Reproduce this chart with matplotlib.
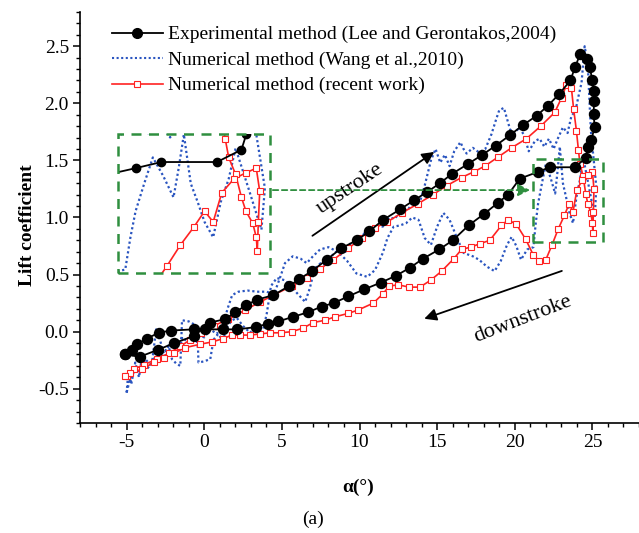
import matplotlib
matplotlib.use('Agg')
import matplotlib.pyplot as plt
from matplotlib.patches import Rectangle
from matplotlib.lines import Line2D
from matplotlib.ticker import MultipleLocator, FormatStrFormatter

# ---------------- data ----------------
exp_up_alpha = [-5.08, -4.16, -3.00, -1.93, -0.69, 0.39, 1.35, 1.99, 2.68, 3.39,
                4.46, 5.47, 6.11, 6.93, 7.89, 8.81, 9.82, 10.64, 11.53, 12.60,
                13.50, 14.32, 15.18, 15.93, 17.00, 17.92, 18.78, 19.68, 20.53, 21.40,
                22.14, 22.85, 23.58, 23.89, 24.21, 24.65, 24.82, 25.00, 25.08, 25.10,
                25.08, 25.14, 24.93, 24.71, 24.57]
exp_up_cl = [-0.20, -0.22, -0.16, -0.10, -0.04, 0.08, 0.11, 0.17, 0.23, 0.28,
             0.32, 0.40, 0.46, 0.53, 0.63, 0.73, 0.80, 0.88, 0.98, 1.07,
             1.15, 1.22, 1.30, 1.38, 1.47, 1.55, 1.63, 1.72, 1.81, 1.89,
             1.98, 2.08, 2.20, 2.32, 2.43, 2.39, 2.32, 2.20, 2.11, 2.02,
             1.91, 1.79, 1.68, 1.62, 1.52]
exp_down_alpha = [24.57, 23.86, 22.25, 21.50, 20.32, 19.57, 18.93, 18.01, 17.02, 16.01,
                  15.13, 14.10, 13.25, 12.35, 11.38, 10.29, 9.29, 8.33, 7.56, 6.69,
                  5.72, 4.78, 4.08, 3.34, 2.10, 1.24, 0.06, -0.69, -2.14, -2.94,
                  -3.68, -4.33, -4.65, -5.08]
exp_down_cl = [1.52, 1.44, 1.44, 1.40, 1.34, 1.20, 1.13, 1.03, 0.93, 0.80,
               0.72, 0.64, 0.56, 0.49, 0.43, 0.37, 0.31, 0.25, 0.22, 0.17,
               0.13, 0.09, 0.07, 0.04, 0.02, 0.02, 0.02, 0.02, 0.01, -0.01,
               -0.06, -0.11, -0.16, -0.20]

rec_up_alpha = [-4.97, -4.55, -3.90, -3.04, -2.30, -1.54, -0.90, -0.19, 0.60, 1.56,
                2.64, 3.60, 4.46, 5.64, 6.60, 7.46, 8.32, 9.28, 10.14, 11.00,
                11.77, 12.73, 13.76, 14.73, 15.63, 16.57, 17.36, 18.07, 18.93, 19.79,
                20.75, 21.67, 22.57, 23.02, 23.32, 23.65, 23.79, 23.97, 24.10, 24.20,
                24.40, 24.57, 24.70, 24.90, 25.00, 25.03]
rec_up_cl = [-0.39, -0.33, -0.29, -0.24, -0.19, -0.13, -0.07, -0.01, 0.05, 0.11,
             0.19, 0.26, 0.32, 0.40, 0.47, 0.55, 0.63, 0.73, 0.82, 0.91,
             0.96, 1.04, 1.12, 1.20, 1.28, 1.35, 1.40, 1.45, 1.53, 1.61,
             1.69, 1.80, 1.92, 2.05, 2.16, 2.13, 1.95, 1.76, 1.59, 1.47,
             1.36, 1.21, 1.12, 1.04, 0.95, 0.86]
rec_down_alpha = [25.03, 25.06, 25.10, 25.00, 24.70, 24.35, 24.00, 23.75, 23.50, 23.20,
                  22.80, 22.40, 22.00, 21.56, 21.20, 20.70, 20.10, 19.57, 19.14, 18.39,
                  17.75, 17.15, 16.57, 16.08, 15.29, 14.58, 13.89, 13.20, 12.50, 11.92,
                  11.50, 10.89, 9.92, 9.28, 8.42, 7.78, 7.03, 6.35, 5.64, 4.93,
                  4.24, 3.60, 2.96, 2.32, 1.78, 1.24, 0.51, -0.26, -1.22, -1.97,
                  -2.62, -3.26, -4.00, -4.76, -5.08]
rec_down_cl = [0.86, 1.05, 1.25, 1.40, 1.37, 1.33, 1.24, 1.05, 1.12, 1.02,
               0.90, 0.76, 0.63, 0.62, 0.67, 0.81, 0.94, 0.98, 0.93, 0.80,
               0.77, 0.74, 0.72, 0.64, 0.53, 0.45, 0.39, 0.39, 0.41, 0.40,
               0.33, 0.25, 0.19, 0.16, 0.13, 0.10, 0.08, 0.03, 0.00, -0.01,
               -0.01, -0.02, -0.03, -0.03, -0.03, -0.06, -0.09, -0.11, -0.14, -0.19,
               -0.23, -0.27, -0.33, -0.36, -0.39]

wang_up_alpha = [-5.0, -4.87, -4.7, -4.44, -4.2, -4.0, -3.7, -3.36, -3.1, -2.9,
                 -2.6, -2.3, -2.08, -1.8, -1.54, -1.43, -1.0, -0.6, -0.4, -0.37,
                 0.0, 0.39, 0.6, 0.9, 1.2, 1.5, 1.8, 2.1, 2.5, 2.96,
                 3.3, 3.6, 3.8, 4.03, 4.3, 4.67, 5.2, 5.6, 5.96, 6.5,
                 6.8, 7.1, 7.5, 7.9, 8.3, 8.7, 9.1, 9.5, 9.9, 10.3,
                 10.7, 11.1, 11.5, 11.9, 12.3, 12.7, 13.1, 13.5, 13.9, 14.2,
                 14.6, 14.9, 15.2, 15.5, 15.8, 16.1, 16.5, 16.7, 16.9, 17.3,
                 17.7, 18.1, 18.5, 18.8, 19.0, 19.3, 19.7, 20.0, 20.3, 20.6,
                 20.9, 21.3, 21.6, 21.9, 22.2, 22.5, 22.8, 23.1, 23.4, 23.65,
                 23.9, 24.1, 24.3, 24.5]
wang_up_cl = [-0.535, -0.33, -0.46, -0.27, -0.40, -0.215, -0.33, -0.27, 0.02, -0.05,
              -0.19, -0.12, -0.24, -0.28, -0.30, 0.10, 0.09, 0.06, -0.15, -0.27,
              -0.26, -0.24, -0.07, -0.02, -0.08, 0.05, 0.10, 0.12, 0.05, -0.01,
              0.05, -0.02, 0.02, 0.16, 0.40, 0.47, 0.45, 0.40, 0.34, 0.26,
              0.38, 0.55, 0.60, 0.58, 0.68, 0.72, 0.70, 0.79, 0.78, 0.86,
              0.85, 0.93, 0.92, 1.00, 0.99, 1.08, 1.06, 1.16, 1.14, 1.28,
              1.50, 1.60, 1.48, 1.55, 1.45, 1.58, 1.66, 1.60, 1.56, 1.61,
              1.57, 1.60, 1.73, 1.86, 1.94, 1.96, 1.77, 1.74, 1.79, 1.72,
              1.58, 1.67, 1.69, 1.62, 1.69, 1.60, 1.70, 1.79, 1.74, 1.89,
              1.93, 2.06, 2.18, 2.50]
wang_down_alpha = [24.5, 24.7, 24.8, 24.9, 25.15, 25.25, 25.15, 24.8, 24.4, 24.2,
                   23.97, 23.75, 23.5, 23.3, 23.1, 22.9, 22.75, 22.6, 22.3, 22.0,
                   21.75, 21.5, 21.35, 21.2, 20.8, 20.4, 20.1, 19.8, 19.5, 19.1,
                   18.7, 18.2, 17.7, 17.3, 16.7, 16.25, 15.8, 15.4, 15.0, 14.6,
                   14.2, 13.8, 13.4, 13.0, 12.6, 12.2, 11.8, 11.5, 11.0, 10.5,
                   9.8, 9.2, 8.6, 8.0, 7.46, 7.0, 6.6, 6.2, 5.7, 5.2,
                   4.9, 4.5, 4.0, 3.4, 2.8, 2.2, 1.8, 1.5, 1.2, 0.8,
                   0.4, 0.0, -0.5, -1.0, -1.4, -1.8, -2.2, -2.6, -3.0, -3.4,
                   -3.8, -4.2, -4.6, -5.0]
wang_down_cl = [2.50, 2.34, 2.05, 1.76, 1.41, 1.27, 1.00, 1.25, 1.53, 1.33,
                1.18, 0.95, 1.05, 1.18, 1.30, 1.62, 1.40, 1.21, 1.35, 1.47,
                1.30, 1.12, 0.95, 0.74, 0.72, 0.63, 0.75, 0.83, 0.76, 0.62,
                0.53, 0.57, 0.63, 0.66, 0.69, 0.83, 0.98, 1.04, 0.92, 0.76,
                0.82, 0.98, 1.00, 0.95, 0.93, 0.92, 0.82, 0.69, 0.54, 0.48,
                0.51, 0.62, 0.70, 0.74, 0.72, 0.66, 0.60, 0.64, 0.66, 0.60,
                0.48, 0.33, 0.35, 0.35, 0.36, 0.35, 0.32, 0.20, 0.05, -0.02,
                0.02, -0.05, -0.02, -0.10, -0.05, -0.15, -0.10, -0.22, -0.16, -0.30,
                -0.24, -0.36, -0.32, -0.535]

labels = ["Experimental method (Lee and Gerontakos,2004)",
          "Numerical method (Wang et al.,2010)",
          "Numerical method (recent work)"]

# ---------------- style ----------------
plt.rcParams['font.family'] = ['Liberation Serif', 'DejaVu Serif']
plt.rcParams['axes.unicode_minus'] = False

BLUE = '#2a55c0'
RED = '#ff2222'
GREEN = '#2f8f3f'

exp_alpha = exp_up_alpha + exp_down_alpha[1:]
exp_cl = exp_up_cl + exp_down_cl[1:]
rec_alpha = rec_up_alpha + rec_down_alpha[1:]
rec_cl = rec_up_cl + rec_down_cl[1:]
wang_alpha = wang_up_alpha + wang_down_alpha[1:]
wang_cl = wang_up_cl + wang_down_cl[1:]

fig = plt.figure(figsize=(6.39, 5.33), dpi=100)
ax = fig.add_axes([0.1252, 0.2064, 0.8748, 0.7711])


def draw(a, ms_exp=7.2, ms_rec=4.2, lw=1.3):
    a.plot(wang_alpha, wang_cl, color=BLUE, ls=(0, (1, 1.2)), lw=1.6, zorder=2)
    a.plot(rec_alpha, rec_cl, color=RED, lw=1.2, marker='s', ms=ms_rec,
           mfc='white', mec=RED, mew=0.8, zorder=3)
    a.plot(exp_alpha, exp_cl, color='black', lw=lw, marker='o', ms=ms_exp,
           zorder=4)


draw(ax)

ax.set_xlim(-8, 28)
ax.set_ylim(-0.8, 2.8)
ax.xaxis.set_major_locator(MultipleLocator(5))
ax.xaxis.set_minor_locator(MultipleLocator(1))
ax.yaxis.set_major_locator(MultipleLocator(0.5))
ax.yaxis.set_minor_locator(MultipleLocator(0.1))
ax.yaxis.set_major_formatter(FormatStrFormatter('%.1f'))
ax.spines['top'].set_visible(False)
ax.spines['right'].set_visible(False)
for s in ('left', 'bottom'):
    ax.spines[s].set_linewidth(1.2)
ax.tick_params(which='major', direction='out', length=5, width=1.1,
               labelsize=14, pad=3)
ax.tick_params(which='minor', direction='out', length=3, width=1.0)

fig.text(28 / 639, 1 - 225 / 533, 'Lift coefficient', rotation=90,
         fontsize=14, fontweight='bold', ha='center', va='center')
fig.text(358 / 639, 1 - 487 / 533, 'α(°)', fontsize=14, fontweight='bold',
         ha='center', va='center')
fig.text(313 / 639, 1 - 519 / 533, '(a)', fontsize=14, ha='center', va='center')

# legend
handles = [Line2D([], [], color='black', lw=1.3, marker='o', ms=7),
           Line2D([], [], color=BLUE, ls=(0, (1, 1.2)), lw=1.5),
           Line2D([], [], color=RED, lw=1.2, marker='s', ms=4.2, mfc='white',
                  mec=RED, mew=0.8)]
ax.legend(handles, labels, loc='upper left', bbox_to_anchor=(0.04, 0.99),
          frameon=False, fontsize=14, handlelength=2.6, handletextpad=0.3,
          labelspacing=0.40, borderaxespad=0.1)

# annotations
ax.annotate('', xy=(14.96, 1.588), xytext=(6.82, 0.826),
            arrowprops=dict(arrowstyle='-|>', color='black', lw=1.3,
                            mutation_scale=18))
ax.text(9.4, 1.25, 'upstroke', rotation=34, fontsize=16, ha='center',
        va='center')
ax.annotate('', xy=(14.0, 0.105), xytext=(23.2, 0.54),
            arrowprops=dict(arrowstyle='-|>', color='black', lw=1.3,
                            mutation_scale=18))
ax.text(20.5, 0.11, 'downstroke', rotation=21, fontsize=16, ha='center',
        va='center')

# green boxes and arrow
ax.add_patch(Rectangle((21.16, 0.785), 4.5, 0.725, fill=False, ec=GREEN,
                       lw=1.8, ls=(0, (4, 3)), zorder=5))
ax.add_patch(Rectangle((-5.53, 0.517), 9.77, 1.211, fill=False, ec=GREEN,
                       lw=1.8, ls=(0, (4, 3)), zorder=6))
ax.annotate('', xy=(21.16, 1.24), xytext=(4.24, 1.24),
            arrowprops=dict(arrowstyle='-|>', color=GREEN, lw=1.3,
                            ls=(0, (3, 2)), mutation_scale=18), zorder=5)

ins = ax.inset_axes([-5.53, 0.517, 9.77, 1.211], transform=ax.transData)
ins.set_facecolor('none')
draw(ins, ms_exp=6, ms_rec=4)
ins.set_xlim(21.0, 25.4)
ins.set_ylim(0.72, 1.62)
ins.set_xticks([])
ins.set_yticks([])
for s in ins.spines.values():
    s.set_visible(False)

fig.savefig('out.png', dpi=100)
